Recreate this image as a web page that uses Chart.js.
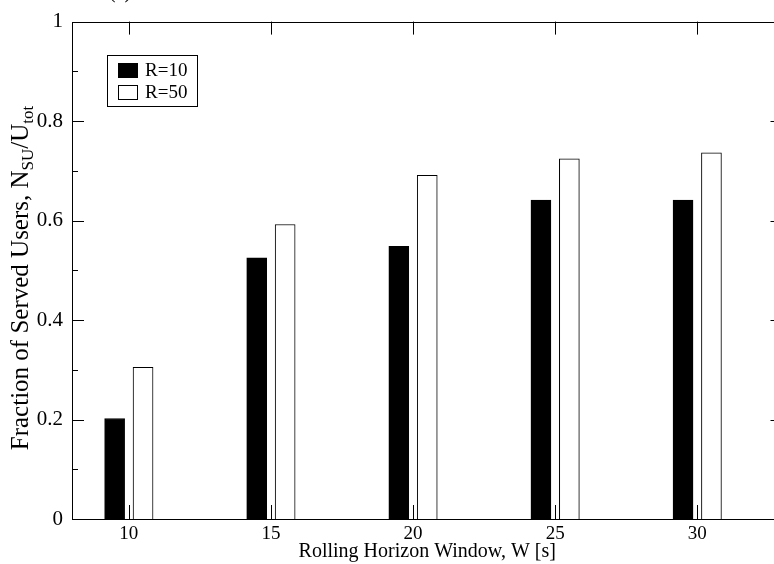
<!DOCTYPE html>
<html>
<head>
<meta charset="utf-8">
<script src="https://cdn.jsdelivr.net/npm/chart.js@4.4.1/dist/chart.umd.min.js"></script>
<style>
  html, body { margin: 0; padding: 0; background: #fff; }
  #wrap { width: 774px; height: 564px; overflow: hidden; position: relative; }
</style>
</head>
<body>
<div id="wrap"><canvas id="chart" width="784" height="564"></canvas></div>
<script>
// Data
const windows = [10, 15, 20, 25, 30];
const r10 = [0.202, 0.525, 0.548, 0.641, 0.641];
const r50 = [0.305, 0.592, 0.691, 0.724, 0.736];
const seriesLabels = ['R=10', 'R=50'];
const yTicks = [0, 0.2, 0.4, 0.6, 0.8, 1];
const yTickLabels = ['0', '0.2', '0.4', '0.6', '0.8', '1'];
const yMinorTicks = [0.1, 0.3, 0.5, 0.7, 0.9];

const FONT = '"Liberation Serif", "Times New Roman", serif';

// Inward ticks and frame, like the original plotting tool
const frameTicks = {
  id: 'frameTicks',
  afterDatasetsDraw(chart) {
    const { ctx, chartArea: a, scales: { x, y } } = chart;
    ctx.save();
    ctx.strokeStyle = '#000';
    ctx.lineWidth = 1;
    ctx.beginPath();
    windows.forEach(w => {
      const px = Math.round(x.getPixelForValue(w)) + 0.5;
      ctx.moveTo(px, a.bottom); ctx.lineTo(px, a.bottom - 14);
      ctx.moveTo(px, a.top); ctx.lineTo(px, a.top + 13);
    });
    yTicks.forEach(v => {
      const py = Math.round(y.getPixelForValue(v)) + 0.5;
      ctx.moveTo(a.left, py); ctx.lineTo(a.left + 12, py);
      ctx.moveTo(a.right, py); ctx.lineTo(a.right - 12, py);
    });
    yMinorTicks.forEach(v => {
      const py = Math.round(y.getPixelForValue(v)) + 0.5;
      ctx.moveTo(a.left, py); ctx.lineTo(a.left + 6, py);
      ctx.moveTo(a.right, py); ctx.lineTo(a.right - 6, py);
    });
    ctx.stroke();
    ctx.strokeRect(Math.round(a.left) + 0.5, Math.round(a.top) + 0.5,
      Math.round(a.right - a.left), Math.round(a.bottom - a.top));
    ctx.restore();
  }
};

// Boxed legend in the upper left corner
const boxLegend = {
  id: 'boxLegend',
  afterDraw(chart) {
    const { ctx } = chart;
    ctx.save();
    ctx.strokeStyle = '#000';
    ctx.lineWidth = 1;
    ctx.strokeRect(107.5, 55.5, 90, 51);
    ctx.font = '19px ' + FONT;
    ctx.textBaseline = 'middle';
    chart.data.datasets.forEach((ds, i) => {
      const top = 63 + i * 22;
      ctx.fillStyle = ds.backgroundColor;
      ctx.fillRect(118, top, 20, 15);
      ctx.strokeRect(118.5, top + 0.5, 19, 14);
      ctx.fillStyle = '#000';
      ctx.fillText(ds.label, 145, top + 8);
    });
    ctx.restore();
  }
};

// Y axis title with subscripts, and the clipped panel label
const yTitle = {
  id: 'yTitle',
  afterDraw(chart) {
    const { ctx } = chart;
    const parts = [
      ['Fraction of Served Users, N', false],
      ['SU', true],
      ['/U', false],
      ['tot', true]
    ];
    ctx.save();
    ctx.fillStyle = '#000';
    ctx.textBaseline = 'alphabetic';
    let total = 0;
    parts.forEach(([t, sub]) => {
      ctx.font = (sub ? '17px ' : '25px ') + FONT;
      total += ctx.measureText(t).width;
    });
    ctx.translate(28, 278);
    ctx.rotate(-Math.PI / 2);
    let xx = -total / 2;
    parts.forEach(([t, sub]) => {
      ctx.font = (sub ? '17px ' : '25px ') + FONT;
      ctx.fillText(t, xx, sub ? 5 : 0);
      xx += ctx.measureText(t).width;
    });
    ctx.restore();

    ctx.save();
    ctx.font = '20px ' + FONT;
    ctx.textAlign = 'center';
    ctx.fillStyle = '#000';
    ctx.fillText('(a)', 120, -2);
    ctx.restore();
  }
};

const ctx = document.getElementById('chart').getContext('2d');
const chart = new Chart(ctx, {
  type: 'bar',
  data: {
    datasets: [
      {
        label: seriesLabels[0],
        data: windows.map((w, i) => ({ x: w - 0.5, y: r10[i] })),
        backgroundColor: '#000',
        borderColor: '#000',
        borderWidth: 1,
        barThickness: 20,
        grouped: false
      },
      {
        label: seriesLabels[1],
        data: windows.map((w, i) => ({ x: w + 0.5, y: r50[i] })),
        backgroundColor: '#fff',
        borderColor: '#000',
        borderWidth: 1,
        barThickness: 20,
        grouped: false
      }
    ]
  },
  options: {
    responsive: false,
    animation: false,
    devicePixelRatio: 1,
    layout: { padding: { top: 20, right: 1.5, left: 0, bottom: 0 } },
    plugins: {
      legend: { display: false },
      tooltip: { enabled: false }
    },
    scales: {
      x: {
        type: 'linear',
        offset: false,
        min: 8,
        max: 33,
        grid: { display: false, drawTicks: false },
        border: { display: false },
        afterBuildTicks: s => { s.ticks = windows.map(v => ({ value: v })); },
        afterFit: s => { s.height = 45; },
        ticks: {
          color: '#000',
          padding: 4,
          maxRotation: 0,
          font: { family: FONT, size: 19 }
        },
        title: {
          display: true,
          text: 'Rolling Horizon Window, W [s]',
          color: '#000',
          font: { family: FONT, size: 20 },
          padding: { top: 0, bottom: 0 }
        }
      },
      y: {
        min: 0,
        max: 1,
        grid: { display: false, drawTicks: false },
        border: { display: false },
        afterBuildTicks: s => { s.ticks = yTicks.map(v => ({ value: v })); },
        afterFit: s => { s.width = 72; },
        ticks: {
          color: '#000',
          padding: 9,
          font: { family: FONT, size: 21 },
          callback: (v, i) => yTickLabels[i]
        }
      }
    }
  },
  plugins: [frameTicks, boxLegend, yTitle]
});
</script>
</body>
</html>
